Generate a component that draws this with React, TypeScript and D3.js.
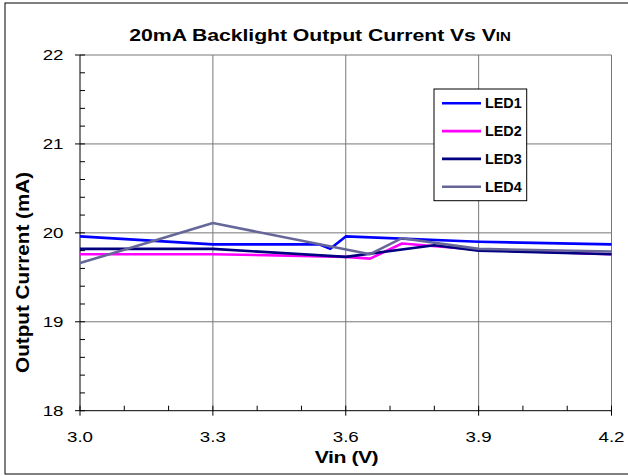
import * as d3 from 'd3';

// values
const led1V = [3.0, 3.3, 3.54, 3.565, 3.6, 3.9, 4.2];
const led1I = [19.96, 19.87, 19.87, 19.82, 19.96, 19.9, 19.87];
const led2V = [3.0, 3.3, 3.6, 3.655, 3.727, 3.9, 4.2];
const led2I = [19.76, 19.76, 19.73, 19.71, 19.88, 19.81, 19.76];
const led3V = [3.0, 3.3, 3.6, 3.8, 3.9, 4.2];
const led3I = [19.82, 19.82, 19.73, 19.86, 19.8, 19.76];
const led4V = [3.0, 3.3, 3.655, 3.727, 3.9, 4.2];
const led4I = [19.66, 20.11, 19.76, 19.94, 19.82, 19.79];

const seriesNames = ['LED1', 'LED2', 'LED3', 'LED4'];
const seriesColors = ['#0000ff', '#ff00ff', '#000080', '#666699'];
const xTicks = [3.0, 3.3, 3.6, 3.9, 4.2];
const yTicks = [18, 19, 20, 21, 22];

const FONT = "Arial, 'Liberation Sans', sans-serif";
const SX = 1.25; // picture is stretched sideways

const App = () => {
  const width = 628;
  const height = 476;
  const left = 80;
  const right = 611.5;
  const top = 55;
  const bottom = 410.7;

  const x = d3.scaleLinear().domain([3.0, 4.2]).range([left, right]);
  const y = d3.scaleLinear().domain([18, 22]).range([bottom, top]);

  const series = [
    { v: led1V, i: led1I },
    { v: led2V, i: led2I },
    { v: led3V, i: led3I },
    { v: led4V, i: led4I },
  ].map((s, k) => ({
    name: seriesNames[k],
    color: seriesColors[k],
    pts: s.v.map((v, j) => [v, s.i[j]] as [number, number]),
  }));

  const line = d3
    .line<[number, number]>()
    .x(d => x(d[0]))
    .y(d => y(d[1]));

  const xMinor = d3.range(3.0, 4.2001, 0.1).filter(v => !xTicks.some(t => Math.abs(t - v) < 1e-6));
  const yMinor = d3.range(18, 22.001, 0.2).filter(v => !yTicks.some(t => Math.abs(t - v) < 1e-6));

  const fmt = d3.format('.1f');
  const grid = '#777';

  // legend layout
  const lgX = 434;
  const lgY = 89;
  const lgW = 92.7;
  const lgH = 111.7;
  const lgRow = 27.8;

  return (
    <svg
      width={width}
      height={height}
      style={{ position: 'absolute', left: 0, top: 0, background: '#fff' }}
      fontFamily={FONT}
    >
      <rect x={5} y={3} width={640} height={471} fill="#fff" stroke="#000" strokeWidth={1} />

      {/* grid */}
      {yTicks.filter(t => t !== 18).map(t => (
        <line key={'gy' + t} x1={left} x2={right} y1={y(t)} y2={y(t)} stroke={grid} strokeWidth={1} />
      ))}
      {xTicks.filter(t => t !== 3.0).map(t => (
        <line key={'gx' + t} x1={x(t)} x2={x(t)} y1={top} y2={bottom} stroke={grid} strokeWidth={1} />
      ))}

      {/* axes */}
      <line x1={left} x2={left} y1={top} y2={bottom} stroke="#000" />
      <line x1={left} x2={right} y1={bottom} y2={bottom} stroke="#000" />
      {yTicks.map(t => (
        <line key={'ty' + t} x1={left - 5} x2={left + 5} y1={y(t)} y2={y(t)} stroke="#000" />
      ))}
      {yMinor.map(t => (
        <line key={'my' + t} x1={left} x2={left + 5} y1={y(t)} y2={y(t)} stroke="#000" />
      ))}
      {xTicks.map(t => (
        <line key={'tx' + t} x1={x(t)} x2={x(t)} y1={bottom - 5} y2={bottom + 5} stroke="#000" />
      ))}
      {xMinor.map(t => (
        <line key={'mx' + t} x1={x(t)} x2={x(t)} y1={bottom - 5} y2={bottom} stroke="#000" />
      ))}

      {/* tick labels */}
      {yTicks.map(t => (
        <text
          key={'ly' + t}
          transform={`translate(63.5,${y(t) + 5.3}) scale(${SX},1)`}
          textAnchor="end"
          fontSize={15}
        >
          {t}
        </text>
      ))}
      {xTicks.map(t => (
        <text
          key={'lx' + t}
          transform={`translate(${x(t)},441.7) scale(${SX},1)`}
          textAnchor="middle"
          fontSize={15}
        >
          {fmt(t)}
        </text>
      ))}

      {/* series */}
      {series.map(s => (
        <path key={s.name} d={line(s.pts) || ''} fill="none" stroke={s.color} strokeWidth={2.6} strokeLinejoin="round" />
      ))}

      {/* legend */}
      <rect x={lgX} y={lgY} width={lgW} height={lgH} fill="#fff" stroke="#000" strokeWidth={1} />
      {series.map((s, k) => {
        const ly = lgY + 14.3 + k * lgRow;
        return (
          <g key={'lg' + s.name}>
            <line x1={442} x2={481} y1={ly} y2={ly} stroke={s.color} strokeWidth={2.6} />
            <text x={485} y={ly + 5} fontSize={14} fontWeight="bold" textLength={36.7} lengthAdjust="spacingAndGlyphs">
              {s.name}
            </text>
          </g>
        );
      })}

      {/* titles */}
      <text
        transform={`translate(320,40.5) scale(${SX},1)`}
        textAnchor="middle"
        fontSize={17}
        fontWeight="bold"
        letterSpacing={-0.05}
      >
        20mA Backlight Output Current Vs V<tspan fontSize={12}>IN</tspan>
      </text>
      <text
        transform={`translate(346.5,463) scale(${SX},1)`}
        textAnchor="middle"
        fontSize={17}
        fontWeight="bold"
        letterSpacing={-0.4}
      >
        Vin (V)
      </text>
      <text
        transform={`translate(29,272.4) scale(${SX},1) rotate(-90)`}
        textAnchor="middle"
        fontSize={15}
        fontWeight="bold"
        textLength={201}
        lengthAdjust="spacingAndGlyphs"
      >
        Output Current (mA)
      </text>
    </svg>
  );
};

export default App;
